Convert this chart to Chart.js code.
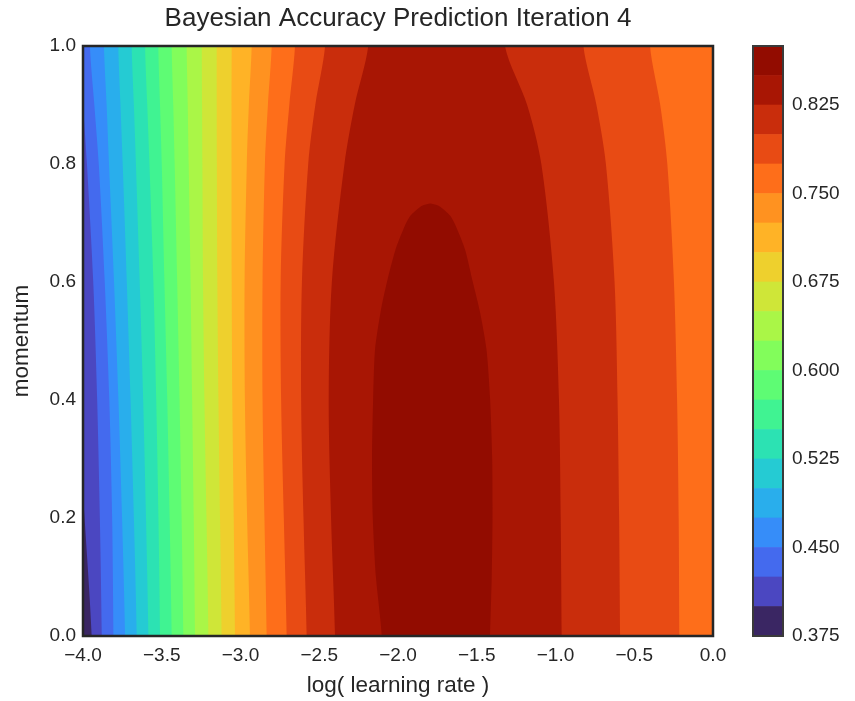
<!DOCTYPE html>
<html><head><meta charset="utf-8">
<script src="https://cdn.jsdelivr.net/npm/chart.js@4/dist/chart.umd.min.js"></script>
<style>
html,body{margin:0;padding:0;background:#fff;}
#wrap{position:relative;width:855px;height:701px;overflow:hidden;}
#main{position:absolute;left:0;top:0;}
#cbar{position:absolute;left:735px;top:0;}
</style></head><body>
<div id="wrap">
<canvas id="main" width="740" height="701"></canvas>
<canvas id="cbar" width="120" height="701"></canvas>
</div>
<script>
// ---- data ----
const chartTitle = 'Bayesian Accuracy Prediction Iteration 4';
const xLabel = 'log( learning rate )';
const yLabel = 'momentum';
const levels = [0.375,0.4,0.425,0.45,0.475,0.5,0.525,0.55,0.575,0.6,0.625,0.65,0.675,0.7,0.725,0.75,0.775,0.8,0.825,0.85,0.875];
const xTicks = [-4,-3.5,-3,-2.5,-2,-1.5,-1,-0.5,0];
const yTicks = [0,0.2,0.4,0.6,0.8,1.0];
const cbarTicks = [0.375,0.45,0.525,0.6,0.675,0.75,0.825];
const momentumRows = [0,0.2,0.4,0.6,0.8,0.9,1.0];
// left boundary (log lr) of region "accuracy >= level", levels 0.400 .. 0.825, at momentumRows
const leftBoundaryLR = [
  [-3.945,-3.990,-4.040,-4.090,-4.150,-4.180,-4.210],
  [-3.881,-3.893,-3.910,-3.935,-3.975,-4.000,-4.030],
  [-3.807,-3.815,-3.833,-3.862,-3.900,-3.928,-3.956],
  [-3.733,-3.752,-3.775,-3.803,-3.835,-3.850,-3.867],
  [-3.659,-3.677,-3.698,-3.722,-3.748,-3.762,-3.776],
  [-3.585,-3.600,-3.618,-3.640,-3.664,-3.677,-3.691],
  [-3.511,-3.521,-3.535,-3.553,-3.578,-3.592,-3.606],
  [-3.437,-3.450,-3.465,-3.483,-3.500,-3.511,-3.522],
  [-3.363,-3.374,-3.387,-3.402,-3.418,-3.427,-3.437],
  [-3.289,-3.297,-3.307,-3.317,-3.329,-3.335,-3.342],
  [-3.204,-3.216,-3.229,-3.238,-3.242,-3.244,-3.246],
  [-3.120,-3.130,-3.140,-3.147,-3.150,-3.151,-3.151],
  [-3.035,-3.043,-3.052,-3.056,-3.057,-3.057,-3.056],
  [-2.940,-2.958,-2.972,-2.974,-2.960,-2.947,-2.929],
  [-2.834,-2.848,-2.860,-2.860,-2.845,-2.826,-2.802],
  [-2.707,-2.725,-2.742,-2.745,-2.720,-2.690,-2.654],
  [-2.580,-2.600,-2.615,-2.610,-2.570,-2.525,-2.463],
  [-2.400,-2.425,-2.440,-2.420,-2.340,-2.275,-2.189]
];
// right boundary for levels 0.775, 0.800, 0.825 (lower levels reach past 0.0)
const rightBoundaryLevels = [0.775,0.8,0.825];
const rightBoundaryLR = [
  [-0.214,-0.218,-0.228,-0.248,-0.290,-0.335,-0.400],
  [-0.590,-0.596,-0.606,-0.625,-0.680,-0.740,-0.823],
  [-0.961,-0.967,-0.978,-1.010,-1.090,-1.180,-1.321]
];
// closed region accuracy >= 0.85 : left / right edge at peakRows, apex at the top
const peakRows    = [0.000, 0.100, 0.200, 0.300, 0.400, 0.485, 0.550, 0.600, 0.654, 0.690, 0.711, 0.725, 0.730];
const peakLeftLR  = [-2.103,-2.140,-2.160,-2.165,-2.158,-2.146,-2.110,-2.070,-2.017,-1.965,-1.925,-1.870,-1.840];
const peakRightLR = [-1.416,-1.405,-1.400,-1.402,-1.415,-1.438,-1.480,-1.525,-1.573,-1.625,-1.665,-1.720,-1.750];
const peakApex    = {x:-1.795, y:0.733};

// ---- colours (turbo colormap, band mid-points) ----
function turbo(x){
  x=Math.max(0,Math.min(1,x));
  const x2=x*x,x3=x2*x,x4=x3*x,x5=x4*x;
  const r=0.13572138+4.61539260*x-42.66032258*x2+132.13108234*x3-152.94239396*x4+59.28637943*x5;
  const g=0.09140261+2.19418839*x+4.84296658*x2-14.18503333*x3+4.27729857*x4+2.82956604*x5;
  const b=0.10667330+12.64194608*x-60.58204836*x2+110.36276771*x3-89.90310912*x4+27.34824973*x5;
  const c=v=>Math.round(255*Math.max(0,Math.min(1,v)));
  return `rgb(${c(r)},${c(g)},${c(b)})`;
}
const nBands = levels.length-1;
const bandColors = [];
for(let k=0;k<nBands;k++) bandColors.push(turbo((k+0.5)/nBands));

const FONT = '"Liberation Sans", Arial, Helvetica, sans-serif';
const TXT = '#262626';

// ---- build filled regions (painter's order, low to high) ----
const datasets = [];
const OUT_R = 0.3, OUT_B = -0.1, OUT_T = 1.1, OUT_L = -4.4;
datasets.push({label:'>= '+levels[0], data:[{x:OUT_R,y:OUT_B},{x:OUT_L,y:OUT_B},{x:OUT_L,y:OUT_T},{x:OUT_R,y:OUT_T}], backgroundColor:bandColors[0], order:100, tension:0});
for(let k=1;k<nBands-1;k++){
  const lvl=levels[k];
  const L=leftBoundaryLR[k-1];
  const ri=rightBoundaryLevels.indexOf(lvl);
  const pts=[];
  if(ri<0){
    pts.push({x:OUT_R,y:OUT_B});
    pts.push({x:L[0],y:OUT_B});
    momentumRows.forEach((m,i)=>pts.push({x:L[i],y:m}));
    pts.push({x:L[L.length-1],y:OUT_T});
    pts.push({x:OUT_R,y:OUT_T});
  } else {
    const R=rightBoundaryLR[ri];
    pts.push({x:R[0],y:OUT_B});
    pts.push({x:L[0],y:OUT_B});
    momentumRows.forEach((m,i)=>pts.push({x:L[i],y:m}));
    pts.push({x:L[L.length-1],y:OUT_T});
    pts.push({x:R[R.length-1],y:OUT_T});
    for(let i=momentumRows.length-1;i>=0;i--) pts.push({x:R[i],y:momentumRows[i]});
  }
  datasets.push({label:'>= '+lvl, data:pts, backgroundColor:bandColors[k], order:100-k, tension:0.3});
}
{
  const k=nBands-1;
  const pts=[{x:peakRightLR[0],y:OUT_B},{x:peakLeftLR[0],y:OUT_B}];
  peakRows.forEach((m,i)=>pts.push({x:peakLeftLR[i],y:m}));
  pts.push(peakApex);
  for(let i=peakRows.length-1;i>=0;i--) pts.push({x:peakRightLR[i],y:peakRows[i]});
  datasets.push({label:'>= '+levels[k], data:pts, backgroundColor:bandColors[k], order:100-k, tension:0.25});
}
datasets.forEach(d=>{Object.assign(d,{showLine:true,fill:'shape',borderWidth:0,pointRadius:0,pointHoverRadius:0,capBezierPoints:false});});

const frame = (w,c)=>({
  id:'frame',
  afterDatasetsDraw(chart){
    const a=chart.chartArea, ctx=chart.ctx;
    ctx.save(); ctx.strokeStyle=c; ctx.lineWidth=w;
    ctx.strokeRect(a.left,a.top,a.right-a.left,a.bottom-a.top);
    ctx.restore();
  }
});

new Chart(document.getElementById('main'),{
  type:'scatter',
  data:{datasets},
  options:{
    responsive:false, animation:false, events:[],
    layout:{padding:{left:0,right:27,top:0,bottom:0}},
    plugins:{
      legend:{display:false}, tooltip:{enabled:false},
      title:{display:true,fullSize:false,text:chartTitle,color:TXT,font:{family:FONT,size:26,weight:'normal',lineHeight:1.2},padding:{top:3.4,bottom:11.4}}
    },
    scales:{
      x:{type:'linear',min:-4,max:0,
        grid:{display:false,drawTicks:false}, border:{display:false},
        afterBuildTicks:s=>{s.ticks=xTicks.map(v=>({value:v}));},
        afterFit:s=>{s.height=65;},
        ticks:{autoSkip:false,maxRotation:0,padding:8,color:TXT,font:{family:FONT,size:19},
          callback:v=>(v<0?'\u2212':'')+Math.abs(v).toFixed(1)},
        title:{display:true,text:xLabel,color:TXT,font:{family:FONT,size:22.5},padding:{top:0,bottom:1.5}}
      },
      y:{type:'linear',min:0,max:1,
        grid:{display:false,drawTicks:false}, border:{display:false},
        afterBuildTicks:s=>{s.ticks=yTicks.map(v=>({value:v}));},
        afterFit:s=>{s.width=83;},
        ticks:{autoSkip:false,padding:7,color:TXT,font:{family:FONT,size:19},callback:v=>Number(v).toFixed(1)},
        title:{display:true,text:yLabel,color:TXT,font:{family:FONT,size:22.5},padding:{top:8.5,bottom:0}}
      }
    }
  },
  plugins:[frame(2.5,TXT)]
});

// ---- colour bar ----
const cbDatasets = bandColors.map((c,k)=>({label:String(levels[k]),data:[[levels[k],levels[k+1]]],backgroundColor:c,borderWidth:0,grouped:false,barPercentage:1,categoryPercentage:1}));
new Chart(document.getElementById('cbar'),{
  type:'bar',
  data:{labels:['cb'],datasets:cbDatasets},
  options:{
    responsive:false, animation:false, events:[],
    layout:{padding:{left:18,right:0,top:46,bottom:65}},
    plugins:{legend:{display:false},tooltip:{enabled:false}},
    scales:{
      x:{display:false},
      y:{position:'right',min:0.375,max:0.875,
        grid:{display:false,drawTicks:false}, border:{display:false},
        afterBuildTicks:s=>{s.ticks=cbarTicks.map(v=>({value:v}));},
        afterFit:s=>{s.width=72;},
        ticks:{autoSkip:false,padding:9,color:TXT,font:{family:FONT,size:19},callback:v=>Number(v).toFixed(3)}
      }
    }
  },
  plugins:[frame(2,'#3a3a3a')]
});
</script>
</body></html>
